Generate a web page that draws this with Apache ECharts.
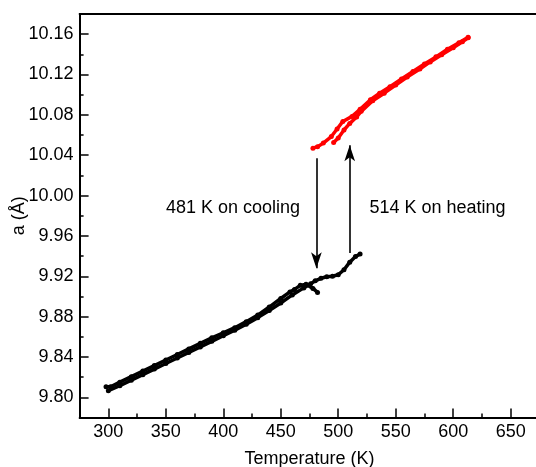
<!DOCTYPE html>
<html>
<head>
<meta charset="utf-8">
<script src="https://cdn.jsdelivr.net/npm/echarts@6/dist/echarts.min.js"></script>
<style>html,body{margin:0;padding:0;background:#fff}#c{width:536px;height:467px}</style>
</head>
<body>
<div id="c"></div>
<script>
// Temperature (K) and lattice parameter a (Å)
const heatBlackT = [300,310,320,330,340,350,360,370,380,390,400,410,420,430,440,450,460,470,476,480,485,490,495,500,505,510,515,519];
const heatBlackA = [9.8065,9.8115,9.817,9.8225,9.828,9.8335,9.839,9.8445,9.85,9.8555,9.861,9.8665,9.8725,9.879,9.886,9.8935,9.9015,9.9085,9.9125,9.9155,9.918,9.9195,9.92,9.9215,9.9265,9.934,9.9395,9.942];
const coolBlackT = [482,478,472,467,462,458,450,440,430,420,410,400,390,380,370,360,350,340,330,320,310,302,298];
const coolBlackA = [9.904,9.908,9.912,9.911,9.907,9.9045,9.898,9.8895,9.8815,9.875,9.869,9.864,9.859,9.8535,9.848,9.8425,9.837,9.8315,9.826,9.8205,9.815,9.8105,9.8105];
const heatRedT = [496,500,505,510,516,520,530,540,550,560,571,580,590,600,608,613];
const heatRedA = [10.0525,10.057,10.065,10.0715,10.078,10.0835,10.094,10.1015,10.1095,10.1175,10.1255,10.1325,10.1395,10.1465,10.1525,10.1565];
const coolRedT = [613,605,595,585,575,565,555,545,536,528,519,512,504,499,494,487,482,478];
const coolRedA = [10.157,10.1515,10.145,10.1375,10.1305,10.123,10.1155,10.108,10.1015,10.095,10.0855,10.0785,10.0735,10.066,10.0585,10.052,10.0485,10.047];
const xMajorTicks = [300,350,400,450,500,550,600,650];
const yMajorTicks = [9.80,9.84,9.88,9.92,9.96,10.00,10.04,10.08,10.12,10.16];
const coolArrow = {T: 481, from: 10.037, to: 9.928, text: '481 K on cooling', textT: 408.5, textA: 9.9877};
const heatArrow = {T: 510, from: 9.943, to: 10.050, text: '514 K on heating', textT: 586.3, textA: 9.9877};

const zip = (xs, ys) => xs.map((x, i) => [x, ys[i]]);
const FONT = 'Liberation Sans, Arial, sans-serif';

const chart = echarts.init(document.getElementById('c'), null, {renderer: 'canvas'});
const axisLine = {show: true, lineStyle: {color: '#000', width: 2}};

function lineSeries(data, color) {
  return {
    type: 'line', data, xAxisIndex: 0, yAxisIndex: 0,
    symbol: 'circle', symbolSize: 5, showSymbol: true,
    itemStyle: {color}, lineStyle: {color, width: 3.5},
    smooth: false, animation: false, silent: true, z: 3
  };
}

function arrowLine(a) {
  return {
    type: 'line', data: [], xAxisIndex: 0, yAxisIndex: 0, silent: true, animation: false,
    markLine: {
      silent: true, animation: false,
      symbol: ['none', 'arrow'], symbolSize: [8, 16],
      lineStyle: {color: '#000', width: 1.6, type: 'solid'},
      label: {show: false},
      data: [[{coord: [a.T, a.from]}, {coord: [a.T, a.to]}]]
    },
    markPoint: {
      silent: true, animation: false,
      symbol: 'circle', symbolSize: 0,
      label: {show: true, position: 'inside', color: '#000', fontSize: 18, fontFamily: FONT, formatter: a.text},
      data: [{coord: [a.textT, a.textA]}]
    }
  };
}

chart.setOption({
  animation: false,
  backgroundColor: '#fff',
  grid: {left: 79.6, top: 14, right: -3.4, bottom: 49.5, containLabel: false, outerBoundsMode: 'none'},
  xAxis: [
    {
      type: 'value', min: 275, max: 675, interval: 25, position: 'bottom',
      name: 'Temperature (K)', nameLocation: 'middle', nameGap: 33, nameMoveOverlap: false,
      nameTextStyle: {fontSize: 18, fontFamily: FONT, color: '#000'},
      axisLine,
      axisTick: {show: true, inside: true, length: 4, lineStyle: {color: '#000', width: 1.5}},
      axisLabel: {fontSize: 18, fontFamily: FONT, color: '#000', margin: 6,
        formatter: v => (Math.round(v) % 50 === 0 ? String(Math.round(v)) : '')},
      splitLine: {show: false}
    },
    {
      type: 'value', min: 275, max: 675, position: 'bottom',
      axisLine: {show: false},
      axisTick: {show: true, inside: true, length: 9, customValues: xMajorTicks, lineStyle: {color: '#000', width: 1.5}},
      axisLabel: {show: false}, splitLine: {show: false}
    },
    {
      type: 'value', min: 275, max: 675, position: 'top',
      axisLine, axisTick: {show: false}, axisLabel: {show: false}, splitLine: {show: false}
    }
  ],
  yAxis: [
    {
      type: 'value', min: 9.78, max: 10.18, interval: 0.02, position: 'left',
      name: 'a (Å)', nameLocation: 'middle', nameGap: 52, nameRotate: 90, nameMoveOverlap: false,
      nameTextStyle: {fontSize: 18, fontFamily: FONT, color: '#000'},
      axisLine,
      axisTick: {show: true, inside: true, length: 4, lineStyle: {color: '#000', width: 1.5}},
      axisLabel: {fontSize: 18, fontFamily: FONT, color: '#000', margin: 6,
        formatter: v => (Math.round(v * 100) % 4 === 0 ? v.toFixed(2) : '')},
      splitLine: {show: false}
    },
    {
      type: 'value', min: 9.78, max: 10.18, position: 'left',
      axisLine: {show: false},
      axisTick: {show: true, inside: true, length: 9, customValues: yMajorTicks, lineStyle: {color: '#000', width: 1.5}},
      axisLabel: {show: false}, splitLine: {show: false}
    }
  ],
  series: [
    lineSeries(zip(heatBlackT, heatBlackA), '#000'),
    lineSeries(zip(coolBlackT, coolBlackA), '#000'),
    lineSeries(zip(heatRedT, heatRedA), '#ff0000'),
    lineSeries(zip(coolRedT, coolRedA), '#ff0000'),
    arrowLine(coolArrow),
    arrowLine(heatArrow)
  ]
});
</script>
</body>
</html>
